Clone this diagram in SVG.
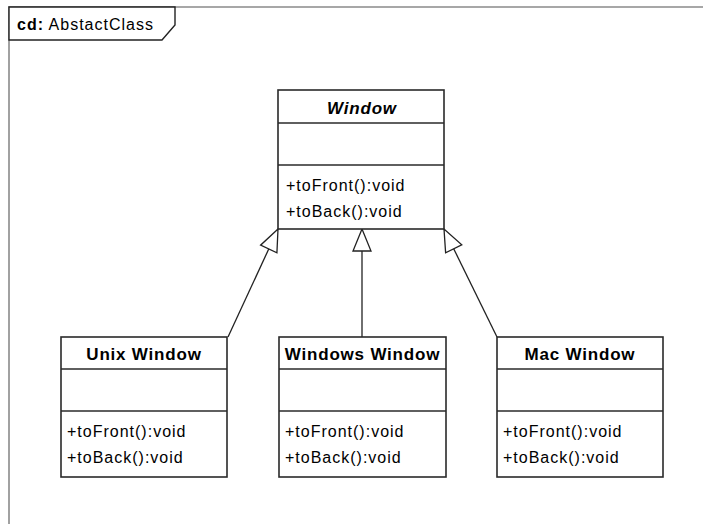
<svg xmlns="http://www.w3.org/2000/svg" width="703" height="524" viewBox="0 0 703 524">
<style>
.frame{fill:none;stroke:#8a8a8a;stroke-width:1.6}
.box{fill:#fff;stroke:#2a2a2a;stroke-width:1.6}
.sep{stroke:#2a2a2a;stroke-width:1.6}
.title{font-family:"Liberation Sans",Arial,sans-serif;font-weight:bold;font-size:17px;letter-spacing:0.8px;fill:#000;text-anchor:middle}
.op{font-family:"Liberation Sans",Arial,sans-serif;font-size:16px;letter-spacing:1px;fill:#000}
.conn{fill:none;stroke:#222;stroke-width:1.3}
</style>
<defs>
<marker id="gen" viewBox="-1 -1 24 20" markerWidth="24" markerHeight="20" refX="22" refY="9" orient="auto" markerUnits="userSpaceOnUse" overflow="visible">
<path d="M22,9 L0,0 L0,18 Z" fill="#fff" stroke="#222" stroke-width="1.3"/>
</marker>
</defs>
<g id="frame">
<path class="frame" d="M9,524 V7 H703"/>
<path d="M9,7 H175 V25 L162,40 H9 Z" fill="#fff" stroke="#222" stroke-width="1.4"/>
<text x="17" y="30" font-family="Liberation Sans,Arial,sans-serif" font-size="16" letter-spacing="1" fill="#000"><tspan font-weight="bold">cd:</tspan> AbstactClass</text>
</g>
<g id="connectors">
<line class="conn" x1="228" y1="337" x2="278" y2="229" marker-end="url(#gen)"/>
<line class="conn" x1="362" y1="337" x2="362" y2="229" marker-end="url(#gen)"/>
<line class="conn" x1="497" y1="337" x2="444" y2="229" marker-end="url(#gen)"/>
</g>
<g id="window">
<rect class="box" x="278" y="90" width="166" height="139"/>
<line class="sep" x1="278" y1="123" x2="444" y2="123"/>
<line class="sep" x1="278" y1="165" x2="444" y2="165"/>
<text class="title" x="362" y="114" font-style="italic">Window</text>
<text class="op" x="286" y="191">+toFront():void</text>
<text class="op" x="286" y="217">+toBack():void</text>
</g>
<g id="unix-window">
<rect class="box" x="61" y="337" width="166" height="140"/>
<line class="sep" x1="61" y1="369" x2="227" y2="369"/>
<line class="sep" x1="61" y1="411" x2="227" y2="411"/>
<text class="title" x="144" y="360">Unix Window</text>
<text class="op" x="67" y="437">+toFront():void</text>
<text class="op" x="67" y="463">+toBack():void</text>
</g>
<g id="windows-window">
<rect class="box" x="279" y="337" width="167" height="140"/>
<line class="sep" x1="279" y1="369" x2="446" y2="369"/>
<line class="sep" x1="279" y1="411" x2="446" y2="411"/>
<text class="title" x="362.5" y="360">Windows Window</text>
<text class="op" x="285" y="437">+toFront():void</text>
<text class="op" x="285" y="463">+toBack():void</text>
</g>
<g id="mac-window">
<rect class="box" x="497" y="337" width="166" height="140"/>
<line class="sep" x1="497" y1="369" x2="663" y2="369"/>
<line class="sep" x1="497" y1="411" x2="663" y2="411"/>
<text class="title" x="580" y="360">Mac Window</text>
<text class="op" x="503" y="437">+toFront():void</text>
<text class="op" x="503" y="463">+toBack():void</text>
</g>
</svg>
